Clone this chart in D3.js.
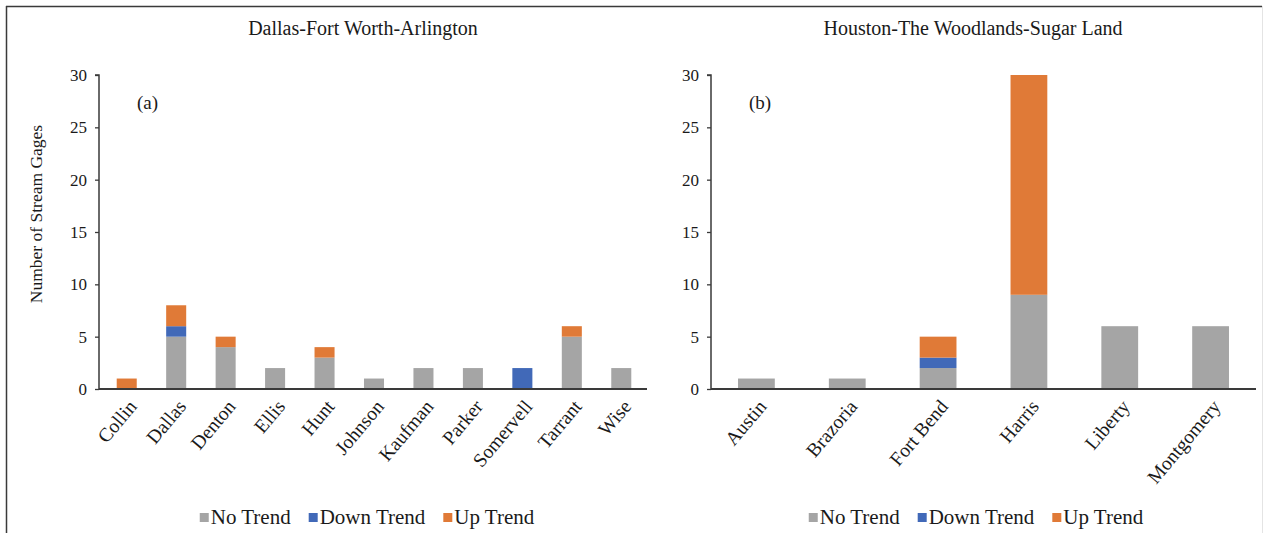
<!DOCTYPE html>
<html>
<head>
<meta charset="utf-8">
<script src="https://cdn.jsdelivr.net/npm/d3@7/dist/d3.min.js"></script>
<style>
  html, body { margin: 0; padding: 0; background: #fff; }
  svg { display: block; }
  text { font-family: "Liberation Serif", "Times New Roman", serif; fill: #1a1a1a; }
</style>
</head>
<body>
<svg id="chart" width="1264" height="533"></svg>
<script>
// ---- data ----
const seriesNames = ["No Trend", "Down Trend", "Up Trend"];
const seriesColors = ["#a5a5a5", "#4169b8", "#e07a37"];
const yTicks = [0, 5, 10, 15, 20, 25, 30];

const leftTitle = "Dallas-Fort Worth-Arlington";
const leftTag = "(a)";
const leftCats = ["Collin", "Dallas", "Denton", "Ellis", "Hunt", "Johnson", "Kaufman", "Parker", "Somervell", "Tarrant", "Wise"];
const leftNo   = [0, 5, 4, 2, 3, 1, 2, 2, 0, 5, 2];
const leftDown = [0, 1, 0, 0, 0, 0, 0, 0, 2, 0, 0];
const leftUp   = [1, 2, 1, 0, 1, 0, 0, 0, 0, 1, 0];

const rightTitle = "Houston-The Woodlands-Sugar Land";
const rightTag = "(b)";
const rightCats = ["Austin", "Brazoria", "Fort Bend", "Harris", "Liberty", "Montgomery"];
const rightNo   = [1, 1, 2, 9, 6, 6];
const rightDown = [0, 0, 1, 0, 0, 0];
const rightUp   = [0, 0, 2, 21, 0, 0];

const yTitle = "Number of Stream Gages";

// ---- drawing ----
const svg = d3.select("#chart");
svg.append("rect").attr("x", 0).attr("y", 0).attr("width", 1264).attr("height", 533).attr("fill", "#fff");

// frame
svg.append("line").attr("x1", 6).attr("x2", 1262).attr("y1", 6.5).attr("y2", 6.5).attr("stroke", "#3a3a3a").attr("stroke-width", 1.5);
svg.append("line").attr("x1", 6.5).attr("x2", 6.5).attr("y1", 6).attr("y2", 533).attr("stroke", "#3a3a3a").attr("stroke-width", 1.5);
svg.append("line").attr("x1", 1262.5).attr("x2", 1262.5).attr("y1", 6).attr("y2", 533).attr("stroke", "#e4e4e4").attr("stroke-width", 1);

const y = d3.scaleLinear().domain([0, 30]).range([389, 75]);

function panel(opts) {
  const { cats, no, down, up, title, tag, axisX, axisEnd, bandRange, titleX, legendX, showYTitle } = opts;
  const g = svg.append("g");
  const x = d3.scaleBand().domain(cats).range(bandRange).paddingInner(0.595).paddingOuter(0.2975);

  const rows = cats.map((c, i) => ({ cat: c, "No Trend": no[i], "Down Trend": down[i], "Up Trend": up[i] }));
  const stacked = d3.stack().keys(seriesNames)(rows);

  stacked.forEach((layer, si) => {
    g.append("g").selectAll("rect").data(layer).join("rect")
      .attr("x", d => x(d.data.cat))
      .attr("width", x.bandwidth())
      .attr("y", d => y(d[1]))
      .attr("height", d => y(d[0]) - y(d[1]))
      .attr("fill", seriesColors[si]);
  });

  // y axis
  const yAxis = d3.axisLeft(y).tickValues(yTicks).tickSize(4).tickPadding(8);
  const ya = g.append("g").attr("transform", `translate(${axisX},0)`).call(yAxis);
  ya.select(".domain").attr("stroke", "#3a3a3a").attr("stroke-width", 1.5).attr("d", `M-4,${y(30)}H0V${y(0)}`);
  ya.selectAll(".tick line").attr("stroke", "#3a3a3a").attr("stroke-width", 1.3);
  ya.selectAll(".tick text").style("font-family", '"Liberation Serif", serif').style("font-size", "17px").attr("fill", "#1a1a1a");

  // x axis
  const xAxis = d3.axisBottom(x).tickSize(0).tickPadding(0);
  const xa = g.append("g").attr("transform", `translate(0,${y(0)})`).call(xAxis);
  xa.select(".domain").attr("stroke", "#3a3a3a").attr("stroke-width", 1.8).attr("d", `M${axisX},0H${axisEnd}`);
  xa.selectAll(".tick text")
    .style("font-family", '"Liberation Serif", serif').style("font-size", "19.5px").attr("fill", "#1a1a1a")
    .attr("text-anchor", "end")
    .attr("dy", null)
    .attr("y", 0)
    .attr("transform", "translate(11,18) rotate(-50)");

  // title
  g.append("text").attr("x", titleX).attr("y", 35).attr("text-anchor", "middle")
    .style("font-size", "20px").text(title);
  // tag
  g.append("text").attr("x", axisX + 38).attr("y", 109).style("font-size", "19px").text(tag);

  if (showYTitle) {
    g.append("text").attr("transform", `translate(42,214) rotate(-90)`).attr("text-anchor", "middle")
      .style("font-size", "17.5px").attr("xml:space", "preserve").text(yTitle);
  }

  // legend
  const lg = g.append("g");
  let cx = 0;
  const gap = 18;
  seriesNames.forEach((name, i) => {
    const it = lg.append("g").attr("transform", `translate(${cx},0)`);
    it.append("rect").attr("x", 0).attr("y", -11).attr("width", 9).attr("height", 9).attr("fill", seriesColors[i]);
    const t = it.append("text").attr("x", 11).attr("y", 0).style("font-size", "21px").text(name);
    cx += 11 + t.node().getComputedTextLength() + gap;
  });
  const total = cx - gap;
  lg.attr("transform", `translate(${legendX - total / 2},524)`);
}

panel({ cats: leftCats, no: leftNo, down: leftDown, up: leftUp, title: leftTitle, tag: leftTag,
  axisX: 99, axisEnd: 647, bandRange: [102, 646], titleX: 363, legendX: 367, showYTitle: true });
panel({ cats: rightCats, no: rightNo, down: rightDown, up: rightUp, title: rightTitle, tag: rightTag,
  axisX: 711, axisEnd: 1256, bandRange: [711, 1256], titleX: 973, legendX: 976, showYTitle: false });
</script>
</body>
</html>
